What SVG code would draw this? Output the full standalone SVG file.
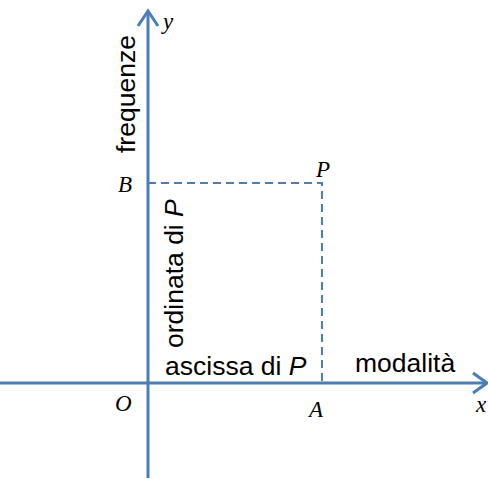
<svg xmlns="http://www.w3.org/2000/svg" width="488" height="479" viewBox="0 0 488 479">
<style>
.ax{stroke:#4a7ebb;stroke-width:3;fill:none}
.ds{stroke:#4a7ebb;stroke-width:2;fill:none;stroke-dasharray:8,5}
.lb{font-family:"Liberation Sans",Arial,sans-serif;font-size:26.5px;fill:#000}
.it{font-family:"Liberation Serif","Times New Roman",serif;font-style:italic;font-size:23px;fill:#000}
</style>
<rect width="488" height="479" fill="#fff"/>
<g id="connectors">
<line class="ax" x1="148" y1="478" x2="148" y2="11"/>
<polyline class="ax" points="138,26 148,11 158,26"/>
<line class="ax" x1="0" y1="383" x2="487" y2="383"/>
<polyline class="ax" points="473,373 487,383 473,393"/>
<polyline class="ds" points="148,183 322,183 322,383"/>
</g>
<g id="labels">
<text class="it" x="163" y="29">y</text>
<text class="it" x="118" y="192">B</text>
<text class="it" x="316" y="177">P</text>
<text class="it" x="115" y="411">O</text>
<text class="it" x="309" y="417">A</text>
<text class="it" x="476" y="412">x</text>
<text class="lb" transform="translate(135,153) rotate(-90)">frequenze</text>
<text class="lb" transform="translate(183,348) rotate(-90)">ordinata di <tspan font-style="italic">P</tspan></text>
<text class="lb" x="165" y="375">ascissa di <tspan font-style="italic">P</tspan></text>
<text class="lb" x="355" y="372">modalità</text>
</g>
</svg>
